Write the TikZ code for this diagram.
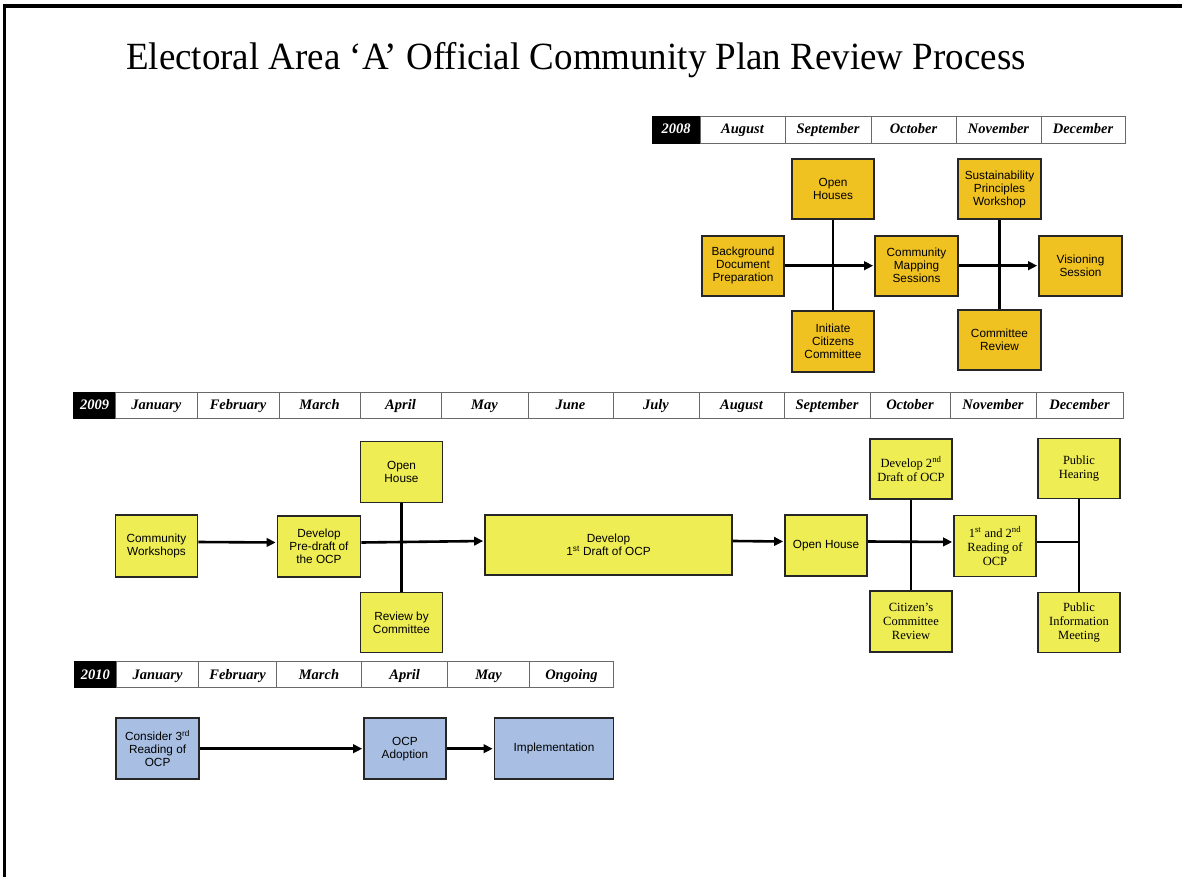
\documentclass[tikz,border=0pt]{standalone}
\usepackage{fontspec}
\setmainfont{Liberation Serif}
\newfontfamily\arialf{Liberation Sans}
\usetikzlibrary{arrows.meta}
\definecolor{gold08}{RGB}{239,194,34}
\definecolor{yel09}{RGB}{238,237,84}
\definecolor{blu10}{RGB}{168,191,227}
\definecolor{hdrline}{RGB}{105,105,105}
\begin{document}
\begin{tikzpicture}[x=1pt,y=-1pt,
  box/.style={draw=black!85, line width=1.7pt, inner sep=0pt, align=center,
    font=\arialf\fontsize{11.8}{13}\selectfont},
  serifbox/.style={font=\fontsize{12.5}{14}\selectfont},
  gbox/.style={box, fill=gold08, minimum width=82pt, minimum height=60pt},
  ybox/.style={box, fill=yel09, minimum width=82pt, minimum height=61pt},
  bbox/.style={box, fill=blu10, minimum width=82pt, minimum height=61pt},
  hcell/.style={draw=hdrline, line width=0.9pt, fill=white, inner sep=0pt,
    minimum height=26pt, text height=11pt, text depth=2pt,
    font=\bfseries\itshape\fontsize{14.5}{16}\selectfont},
  ycell/.style={hcell, fill=black, text=white, draw=black},
  conn/.style={line width=2.6pt, draw=black},
  arr/.style={conn, -{Triangle[length=9pt,width=8.5pt]}, shorten >=1pt}
]
\useasboundingbox (0,0) rectangle (1182,877);
\fill[white] (0,0) rectangle (1182,877);
% frame
\draw[line width=3.5pt] (4.3,877) -- (4.3,6) -- (1182,6);
% title
\node[anchor=base west, inner sep=0pt, xscale=0.96, font=\fontsize{38.5}{41}\selectfont] (title) at (126,70)
  {Electoral Area ‘A’ Official Community Plan Review Process};

% ---------- 2008 header ----------
\node[ycell, minimum width=48pt, minimum height=27pt] (y08) at (676,129.5) {2008};
\foreach \l/\r/\t/\n in {700/785/August/m08a, 785/871/September/m08b, 871/956/October/m08c,
  956/1041/November/m08d, 1041/1125/December/m08e}
  \node[hcell, minimum height=27pt, minimum width={\r-\l}] (\n) at ({(\l+\r)/2},129.5) {\t};

% ---------- 2008 boxes ----------
\node[gbox] (oh08) at (833,189.3) {Open\\Houses};
\node[gbox] (bg08) at (743,265.7) {Background\\Document\\Preparation};
\node[gbox, minimum width=83pt] (cm08) at (916.5,265.7) {Community\\Mapping\\Sessions};
\node[gbox, minimum width=83pt] (sp08) at (999.5,189.3) {Sustainability\\Principles\\Workshop};
\node[gbox, minimum width=83pt] (vs08) at (1080.5,265.7) {Visioning\\Session};
\node[gbox, minimum height=61pt] (ic08) at (833,341.2) {Initiate\\Citizens\\Committee};
\node[gbox, minimum width=83pt] (cr08) at (999.5,339.7) {Committee\\Review};

\draw[conn] (oh08.south) -- (ic08.north);
\draw[conn] (sp08.south) -- (cr08.north);
\draw[arr] (bg08.east) -- (cm08.west);
\draw[arr] (cm08.east) -- (vs08.west);

% ---------- 2009 header ----------
\node[ycell, minimum width=42pt] (y09) at (94.5,405) {2009};
\foreach \l/\r/\t/\n in {115.5/197/January/m09a, 197/279/February/m09b, 279/360/March/m09c,
  360/441/April/m09d, 441/528/May/m09e, 528/613/June/m09f, 613/699/July/m09g,
  699/784/August/m09h, 784/870/September/m09i, 870/950/October/m09j,
  950/1036/November/m09k, 1036/1123/December/m09l}
  \node[hcell, minimum width={\r-\l}] (\n) at ({(\l+\r)/2},405) {\t};

% ---------- 2009 boxes ----------
\node[ybox, minimum height=62pt] (cw09) at (156.5,546) {Community\\Workshops};
\node[ybox, minimum width=83pt] (pd09) at (319,546.5) {Develop\\Pre-draft of\\the OCP};
\node[ybox] (oh09a) at (401.5,472) {Open\\House};
\node[ybox, minimum height=60pt] (rc09) at (401.5,622.5) {Review by\\Committee};
\node[ybox, minimum width=247pt, minimum height=60pt] (d109) at (608.5,545)
  {Develop\\1\textsuperscript{st} Draft of OCP};
\node[ybox] (oh09b) at (826,545.5) {Open House};
\node[ybox, serifbox, minimum height=60pt] (d209) at (911,469)
  {Develop 2\textsuperscript{nd}\\Draft of OCP};
\node[ybox, serifbox] (cc09) at (911,621.3) {Citizen’s\\Committee\\Review};
\node[ybox, serifbox] (rd09) at (995,546)
  {1\textsuperscript{st} and 2\textsuperscript{nd}\\Reading of\\OCP};
\node[ybox, serifbox, minimum height=60pt] (ph09) at (1079,468.5) {Public\\Hearing};
\node[ybox, serifbox, minimum height=60pt] (pi09) at (1079,622.5) {Public\\Information\\Meeting};

\draw[conn] (oh09a.south) -- (rc09.north);
\draw[conn] (d209.south) -- (cc09.north);
\draw[conn] (ph09.south) -- (pi09.north);
\draw[arr] ([yshift=4pt]cw09.east) -- ([yshift=4pt]pd09.west);
\draw[arr] ([yshift=4pt]pd09.east) -- ([yshift=4pt]d109.west);
\draw[arr] ([yshift=4pt]d109.east) -- ([yshift=4pt]oh09b.west);
\draw[arr] ([yshift=4pt]oh09b.east) -- ([yshift=4pt]rd09.west);
\draw[conn] ([yshift=4pt]rd09.east) -- ([yshift=4pt]rd09.east -| ph09.south);

% ---------- 2010 header ----------
\node[ycell, minimum width=42pt] (y10) at (95.3,674.5) {2010};
\foreach \l/\r/\t/\n in {116.3/198.8/January/m10a, 198.8/276.3/February/m10b,
  276.3/361.6/March/m10c, 361.6/447.8/April/m10d, 447.8/529.4/May/m10e,
  529.4/613.5/Ongoing/m10f}
  \node[hcell, minimum width={\r-\l}] (\n) at ({(\l+\r)/2},674.5) {\t};

% ---------- 2010 boxes ----------
\node[bbox, minimum width=83pt] (c310) at (157.6,748.7) {Consider 3\textsuperscript{rd}\\Reading of\\OCP};
\node[bbox] (oa10) at (405,748.7) {OCP\\Adoption};
\node[bbox, minimum width=119pt] (im10) at (554,748.7) {Implementation};

\draw[arr] (c310.east) -- (oa10.west);
\draw[arr] (oa10.east) -- (im10.west);
\end{tikzpicture}
\end{document}
